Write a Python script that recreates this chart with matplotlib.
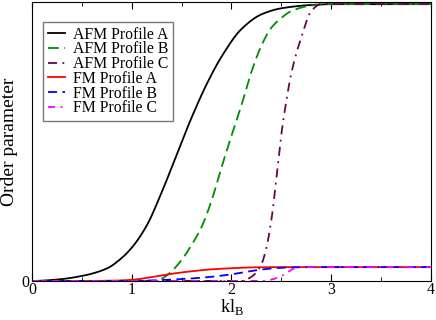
import numpy as np
import matplotlib
matplotlib.use('Agg')
import matplotlib.pyplot as plt

plt.rcParams['font.family'] = ['Liberation Serif', 'DejaVu Serif']
plt.rcParams['mathtext.fontset'] = 'custom'
plt.rcParams['mathtext.rm'] = 'Liberation Serif'

# curves
afm_a_x = [0.0, 0.25, 0.5, 0.75, 0.88, 1.0, 1.15, 1.3, 1.45, 1.6, 1.75, 1.9, 2.1, 2.3, 2.5, 2.8, 3.0, 4.0]
afm_a_y = [0.0, 0.005, 0.018, 0.045, 0.077, 0.12, 0.2, 0.32, 0.455, 0.59, 0.71, 0.81, 0.91, 0.963, 0.985, 0.997, 1.0, 1.0]

afm_b_x = [0.0, 1.25, 1.32, 1.4, 1.5, 1.6, 1.7, 1.8, 1.9, 2.0, 2.1, 2.2, 2.3, 2.4, 2.5, 2.6, 2.8, 3.0, 4.0]
afm_b_y = [0.0, 0.0, 0.012, 0.035, 0.076, 0.13, 0.195, 0.29, 0.41, 0.525, 0.635, 0.755, 0.85, 0.915, 0.95, 0.975, 0.995, 1.0, 1.0]

afm_c_x = [0.0, 2.1, 2.2, 2.3, 2.35, 2.4, 2.45, 2.5, 2.55, 2.6, 2.7, 2.8, 2.9, 4.0]
afm_c_y = [0.0, 0.0, 0.015, 0.06, 0.12, 0.22, 0.37, 0.53, 0.65, 0.75, 0.88, 0.975, 1.0, 1.0]

fm_a_x = [0.0, 0.5, 0.8, 1.0, 1.2, 1.4, 1.6, 1.8, 2.0, 2.2, 2.5, 4.0]
fm_a_y = [0.0, 0.0, 0.001, 0.004, 0.014, 0.026, 0.035, 0.042, 0.046, 0.049, 0.05, 0.05]

fm_b_x = [0.0, 1.0, 1.2, 1.4, 1.6, 1.8, 2.0, 2.2, 2.4, 2.6, 2.8, 4.0]
fm_b_y = [0.0, 0.0, 0.002, 0.005, 0.009, 0.015, 0.024, 0.036, 0.045, 0.049, 0.05, 0.05]

fm_c_x = [0.0, 2.3, 2.4, 2.5, 2.55, 2.6, 2.65, 2.7, 4.0]
fm_c_y = [0.0, 0.0, 0.005, 0.018, 0.028, 0.04, 0.048, 0.05, 0.05]

labels = ['AFM Profile A', 'AFM Profile B', 'AFM Profile C',
          'FM Profile A', 'FM Profile B', 'FM Profile C']


def smooth(x, y, n=600):
    # monotone cubic (pchip) through the read points
    x = np.asarray(x, float)
    y = np.asarray(y, float)
    h = np.diff(x)
    d = np.diff(y) / h
    m = np.zeros_like(y)
    for i in range(1, len(x) - 1):
        if d[i - 1] * d[i] > 0:
            w1 = 2 * h[i] + h[i - 1]
            w2 = h[i] + 2 * h[i - 1]
            m[i] = (w1 + w2) / (w1 / d[i - 1] + w2 / d[i])
    xs = np.linspace(x[0], x[-1], n)
    k = np.clip(np.searchsorted(x, xs) - 1, 0, len(x) - 2)
    t = (xs - x[k]) / h[k]
    h00 = 2 * t**3 - 3 * t**2 + 1
    h10 = t**3 - 2 * t**2 + t
    h01 = -2 * t**3 + 3 * t**2
    h11 = t**3 - t**2
    ys = h00 * y[k] + h10 * h[k] * m[k] + h01 * y[k + 1] + h11 * h[k] * m[k + 1]
    return xs, ys


fig = plt.figure(figsize=(4.36, 3.2), dpi=100)
ax = fig.add_axes([0.0734, 0.122, 0.915, 0.872])

ax.plot(*smooth(afm_a_x, afm_a_y), color='black', lw=1.3, label=labels[0])
ax.plot(*smooth(afm_b_x, afm_b_y), color='#008c00', lw=1.3, dashes=(6, 3), label=labels[1])
ax.plot(*smooth(afm_c_x, afm_c_y), color='#670748', lw=1.3, dashes=(5, 3, 1, 3), label=labels[2])
ax.plot(*smooth(fm_a_x, fm_a_y), color='red', lw=1.3, label=labels[3])
ax.plot(*smooth(fm_b_x, fm_b_y), color='blue', lw=1.3, dashes=(5, 3), label=labels[4])
ax.plot(*smooth(fm_c_x, fm_c_y), color='magenta', lw=1.3, dashes=(4, 3, 1, 3), label=labels[5])

ax.set_xlim(0, 4)
ax.set_ylim(0, 1.008)
ax.set_xticks([0, 1, 2, 3, 4])
ax.set_xticks([0.5, 1.5, 2.5, 3.5], minor=True)
ax.set_yticks([0])
ax.tick_params(axis='x', which='both', direction='in', top=True, labelsize=11.5, pad=1)
ax.tick_params(axis='x', which='major', length=5)
ax.tick_params(axis='x', which='minor', length=3)
ax.tick_params(axis='y', direction='in', length=0, labelsize=11.5, pad=2)
ax.set_xlabel('kl$_\\mathrm{B}$', fontsize=13, labelpad=-1)
ax.set_ylabel('Order parameter', fontsize=14, labelpad=2)

leg = ax.legend(loc='upper left', bbox_to_anchor=(0.0276, 0.928), fontsize=11.3,
                frameon=True, fancybox=False, edgecolor='#555555',
                handlelength=1.1, handletextpad=0.5, labelspacing=-0.08,
                borderpad=0.3, borderaxespad=0)
leg.get_frame().set_linewidth(1.0)

fig.savefig('out.png', dpi=100)
